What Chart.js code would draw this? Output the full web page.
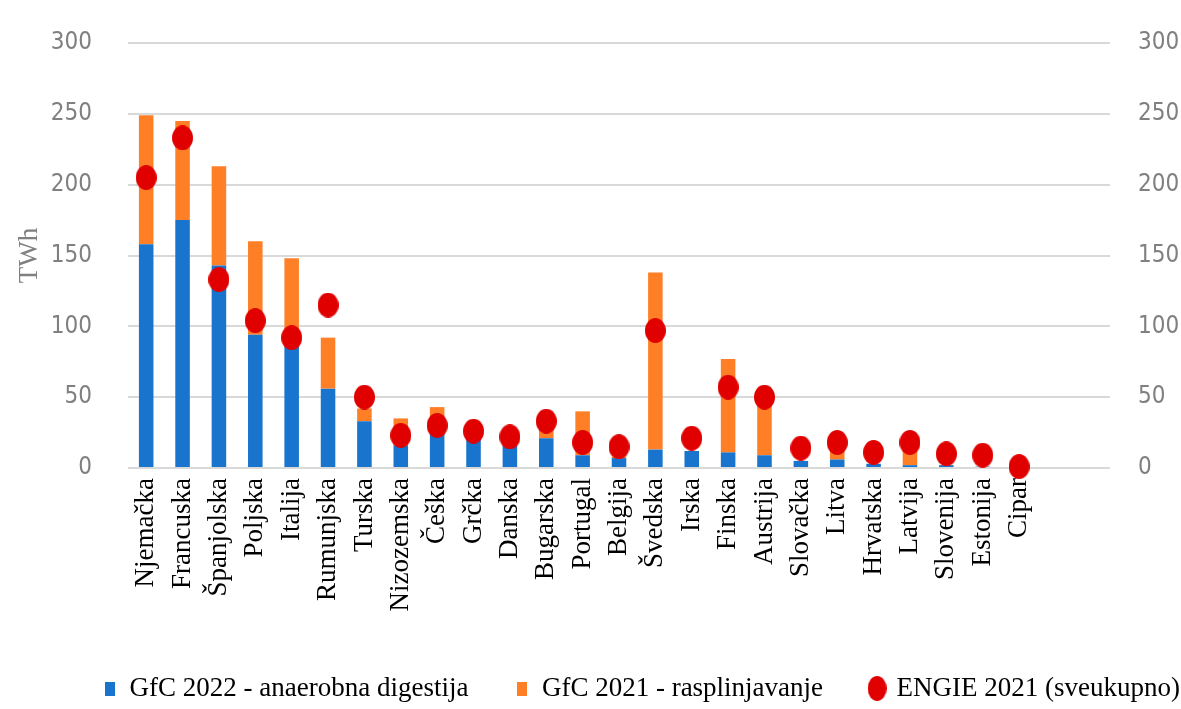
<!DOCTYPE html>
<html lang="hr">
<head>
    <meta charset="UTF-8">
    <title>Bioplin po zemljama</title>
    <script src="https://cdn.jsdelivr.net/npm/chart.js"></script>
    <style>
        html, body {
            margin: 0;
            padding: 0;
            background: #fff;
        }
        .chart-box {
            width: 1181px;
            height: 709px;
        }
    </style>
</head>
<body>
    <div class="chart-box">
        <canvas id="gasChart"></canvas>
    </div>

    <script>
        // countries (two empty slots at the end, as in the original axis)
        const countries = ['Njemačka', 'Francuska', 'Španjolska', 'Poljska', 'Italija', 'Rumunjska', 'Turska',
            'Nizozemska', 'Češka', 'Grčka', 'Danska', 'Bugarska', 'Portugal', 'Belgija', 'Švedska', 'Irska',
            'Finska', 'Austrija', 'Slovačka', 'Litva', 'Hrvatska', 'Latvija', 'Slovenija', 'Estonija', 'Cipar', '', ''];

        // TWh
        const anaerobic2022 = [158, 175, 143, 94, 86, 56, 33, 16, 24, 21, 16, 21, 9, 7, 13, 12,
            11, 9, 5, 6, 3, 2, 2, 1, 0, null, null];
        const gasification2021 = [91, 70, 70, 66, 62, 36, 9, 19, 19, 0, 0, 9, 31, 1, 125, 0,
            66, 38, 0, 7, 0, 11, 0, 0, 0, null, null];
        const engie2021 = [205, 233, 133, 104, 92, 115, 50, 23, 30, 26, 22, 33, 18, 15, 97, 21,
            57, 50, 14, 18, 11, 18, 10, 9, 1, null, null];

        const yTicks = [0, 50, 100, 150, 200, 250, 300];

        const seriesNames = ['GfC 2022 - anaerobna digestija', 'GfC 2021 - rasplinjavanje', 'ENGIE 2021 (sveukupno)'];

        const BLUE = '#1874cd';
        const ORANGE = '#ff7f27';
        const RED = '#e00000';
        const GREY = '#808080';
        const SERIF = "'Liberation Serif', 'Times New Roman', serif";
        const NARROW = "'Liberation Sans Narrow', 'DejaVu Sans Condensed', 'Liberation Sans', sans-serif";

        // little canvases used as markers (the dots are slightly oval)
        function ovalMarker(w, h, color) {
            const c = document.createElement('canvas');
            c.width = w;
            c.height = h;
            const g = c.getContext('2d');
            g.fillStyle = color;
            g.beginPath();
            g.ellipse(w / 2, h / 2, w / 2, h / 2, 0, 0, Math.PI * 2);
            g.fill();
            return c;
        }
        function rectMarker(w, h, color) {
            const c = document.createElement('canvas');
            c.width = w;
            c.height = h;
            const g = c.getContext('2d');
            g.fillStyle = color;
            g.fillRect(0, 0, w, h);
            return c;
        }

        const dotMarker = ovalMarker(21, 25, RED);
        const legendMarkers = [rectMarker(10, 14, BLUE), rectMarker(10, 14, ORANGE), ovalMarker(19, 25, RED)];

        // the original legend sits a bit right of centre and a little lower
        const legendNudge = {
            id: 'legendNudge',
            afterLayout(chart) {
                const lg = chart.legend;
                if (!lg) return;
                lg.left += 56;
                lg.right += 56;
                lg.top += 3;
                lg.bottom += 3;
            }
        };

        const ctx = document.getElementById('gasChart').getContext('2d');
        new Chart(ctx, {
            type: 'bar',
            data: {
                labels: countries,
                datasets: [
                    {
                        label: seriesNames[0],
                        data: anaerobic2022,
                        backgroundColor: BLUE,
                        stack: 'gfc',
                        order: 1
                    },
                    {
                        label: seriesNames[1],
                        data: gasification2021,
                        backgroundColor: ORANGE,
                        stack: 'gfc',
                        order: 1
                    },
                    {
                        type: 'line',
                        label: seriesNames[2],
                        data: engie2021,
                        showLine: false,
                        pointStyle: dotMarker,
                        pointRadius: 10,
                        pointBorderWidth: 0,
                        backgroundColor: RED,
                        borderColor: RED,
                        stack: 'engie',
                        clip: false,
                        order: 0
                    }
                ]
            },
            plugins: [legendNudge],
            options: {
                responsive: true,
                maintainAspectRatio: false,
                animation: false,
                layout: {
                    padding: { top: 43, left: 0, right: 0, bottom: 0 }
                },
                datasets: {
                    bar: {
                        barPercentage: 0.4,
                        categoryPercentage: 1.0
                    }
                },
                plugins: {
                    tooltip: { enabled: false },
                    legend: {
                        position: 'bottom',
                        align: 'start',
                        labels: {
                            usePointStyle: true,
                            boxWidth: 12,
                            boxHeight: 15,
                            padding: 48,
                            color: '#000',
                            font: { family: SERIF, size: 27 },
                            generateLabels: function(chart) {
                                const items = Chart.defaults.plugins.legend.labels.generateLabels(chart);
                                items.sort((a, b) => a.datasetIndex - b.datasetIndex);
                                items.forEach(item => {
                                    item.pointStyle = legendMarkers[item.datasetIndex];
                                });
                                return items;
                            }
                        }
                    }
                },
                scales: {
                    x: {
                        stacked: true,
                        grid: { display: false, drawTicks: false },
                        border: { display: false },
                        ticks: {
                            autoSkip: false,
                            minRotation: 90,
                            maxRotation: 90,
                            padding: 10,
                            color: '#000',
                            font: { family: SERIF, size: 27 }
                        },
                        afterFit: function(scale) {
                            scale.height = 156;
                        }
                    },
                    y: {
                        position: 'left',
                        stacked: true,
                        min: 0,
                        max: 300,
                        afterBuildTicks: function(scale) {
                            scale.ticks = yTicks.map(v => ({ value: v }));
                        },
                        // invisible tick marks keep the labels away from the plot
                        grid: {
                            color: '#d9d9d9',
                            lineWidth: 2,
                            drawTicks: true,
                            tickLength: 30,
                            tickColor: 'rgba(0,0,0,0)'
                        },
                        border: { display: false },
                        ticks: {
                            padding: 6,
                            color: GREY,
                            font: { family: NARROW, size: 24 }
                        },
                        title: {
                            display: true,
                            text: 'TWh',
                            color: GREY,
                            font: { family: SERIF, size: 27 },
                            padding: { top: 14, bottom: 0 }
                        },
                        afterFit: function(scale) {
                            scale.width = 128;
                        }
                    },
                    y1: {
                        position: 'right',
                        min: 0,
                        max: 300,
                        afterBuildTicks: function(scale) {
                            scale.ticks = yTicks.map(v => ({ value: v }));
                        },
                        grid: {
                            drawOnChartArea: false,
                            drawTicks: true,
                            tickLength: 22,
                            tickColor: 'rgba(0,0,0,0)'
                        },
                        border: { display: false },
                        ticks: {
                            padding: 6,
                            color: GREY,
                            font: { family: NARROW, size: 24 }
                        },
                        afterFit: function(scale) {
                            scale.width = 71;
                        }
                    }
                }
            }
        });
    </script>
</body>
</html>
